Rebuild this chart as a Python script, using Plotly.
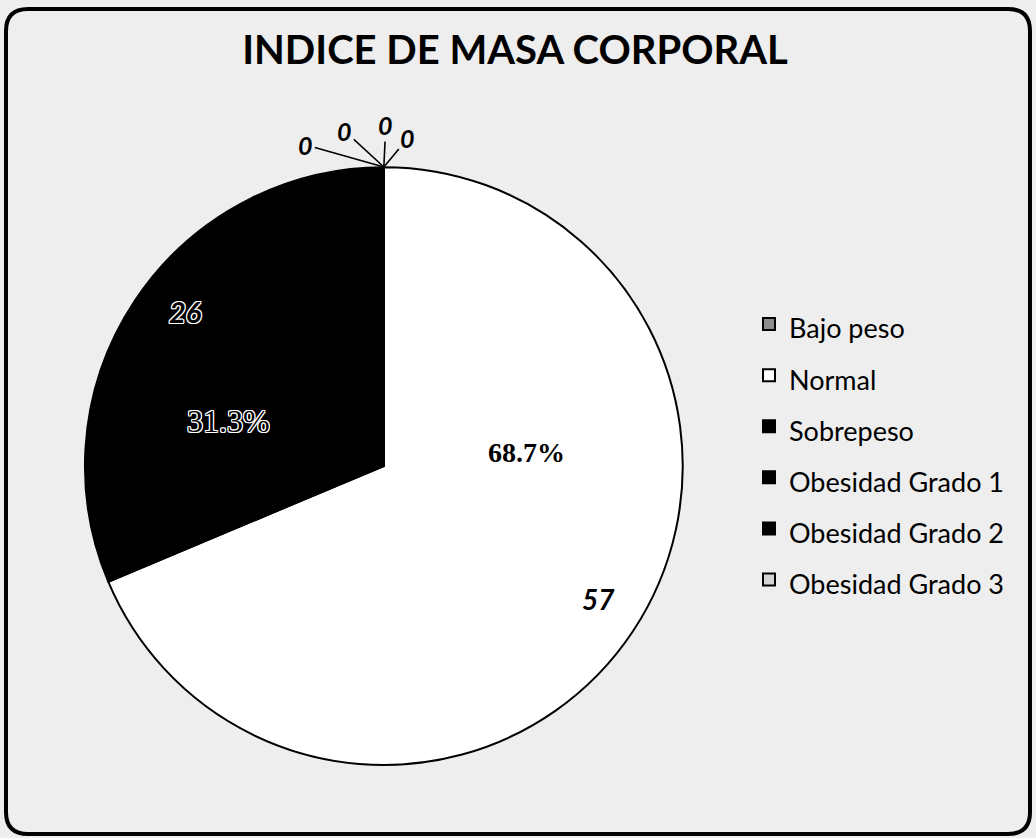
import plotly.graph_objects as go

# ---- data ----
categories = ["Bajo peso", "Normal", "Sobrepeso", "Obesidad Grado 1", "Obesidad Grado 2", "Obesidad Grado 3"]
counts = [0, 57, 26, 0, 0, 0]
slice_colors = ["#8c8c8c", "#ffffff", "#000000", "#000000", "#000000", "#d4d4d4"]
title_text = "INDICE DE MASA CORPORAL"

W, H = 1036, 838
total = sum(counts)
pcts = [c / total * 100 for c in counts]

legend_labels = [f"<span style='font-size:27px'>{c}</span>" for c in categories]

dom_x = [0.082, 0.659]
dom_y = [0.087, 0.8007]

fig = go.Figure(go.Pie(
    labels=legend_labels,
    values=counts,
    sort=False,
    direction="clockwise",
    rotation=0,
    textinfo="none",
    hoverinfo="label+value+percent",
    marker=dict(colors=slice_colors, line=dict(color="#000000", width=2)),
    domain=dict(x=dom_x, y=dom_y),
    showlegend=True,
))

# pie top point (where zero-valued slices sit)
top_x = (dom_x[0] + dom_x[1]) / 2
top_y = dom_y[1]

annotations = []
zero_offsets = [(-78, -22), (-39, -36), (2, -42), (24, -29)]
zi = 0
for c, v in zip(categories, counts):
    if v == 0 and zi < len(zero_offsets):
        ax, ay = zero_offsets[zi]
        zi += 1
        annotations.append(dict(
            x=top_x, y=top_y, xref="paper", yref="paper",
            text=f"<b><i>{v}</i></b>", showarrow=True, arrowhead=0,
            arrowwidth=1.6, arrowcolor="#000000", ax=ax, ay=ay,
            font=dict(family="Lato", size=25, color="#000000"),
        ))

outline = ("1px 1px 0 #fff, -1px -1px 0 #fff, 1px -1px 0 #fff, -1px 1px 0 #fff, "
           "0 1px 0 #fff, 0 -1px 0 #fff, 1px 0 0 #fff, -1px 0 0 #fff")
idx_n = categories.index("Normal")
idx_s = categories.index("Sobrepeso")
annotations += [
    dict(x=526 / W, y=1 - 452 / H, xref="paper", yref="paper", showarrow=False,
         text=f"<b>{pcts[idx_n]:.1f}%</b>",
         font=dict(family="Liberation Serif", size=28, color="#000000")),
    dict(x=598 / W, y=1 - 618 / H, xref="paper", yref="paper", showarrow=False,
         text=f"<b><i>{counts[idx_n]}</i></b>",
         font=dict(family="Lato", size=28, color="#000000")),
    dict(x=185 / W, y=1 - 421 / H, xref="paper", yref="paper", showarrow=False,
         text=f"{pcts[idx_s]:.1f}%",
         font=dict(family="Liberation Serif", size=32, color="#000000", shadow=outline)),
    dict(x=167 / W, y=1 - 312 / H, xref="paper", yref="paper", showarrow=False,
         text=f"<b><i>{counts[idx_s]}</i></b>",
         font=dict(family="Lato", size=29, color="#000000", shadow=outline)),
]

# rounded frame
x0, y0, x1, y1 = 6 / W, 1 - 9 / H, 1030 / W, 1 - 834 / H
rx, ry = 22 / W, 22 / H
frame_path = (
    f"M {x0+rx},{y0} L {x1-rx},{y0} Q {x1},{y0} {x1},{y0-ry} "
    f"L {x1},{y1+ry} Q {x1},{y1} {x1-rx},{y1} "
    f"L {x0+rx},{y1} Q {x0},{y1} {x0},{y1+ry} "
    f"L {x0},{y0-ry} Q {x0},{y0} {x0+rx},{y0} Z"
)

fig.update_layout(
    width=W, height=H,
    margin=dict(l=0, r=0, t=0, b=0),
    paper_bgcolor="#eeeeee",
    plot_bgcolor="#eeeeee",
    title=dict(text=f"<b>{title_text}</b>", x=515 / W, xanchor="center",
               y=1 - 50 / H, yanchor="middle",
               font=dict(family="Lato", size=40, color="#000000")),
    legend=dict(x=749 / W, xanchor="left", y=1 - 452 / H, yanchor="middle",
                font=dict(family="Lato", size=37, color="#000000"),
                bgcolor="rgba(0,0,0,0)", borderwidth=0),
    annotations=annotations,
    shapes=[dict(type="path", path=frame_path, xref="paper", yref="paper",
                 line=dict(color="#000000", width=4), fillcolor="rgba(0,0,0,0)")],
)

fig.write_html("out.html",
               config={"displayModeBar": False},
               post_script="document.body.style.margin='0';document.body.style.overflow='hidden';")
